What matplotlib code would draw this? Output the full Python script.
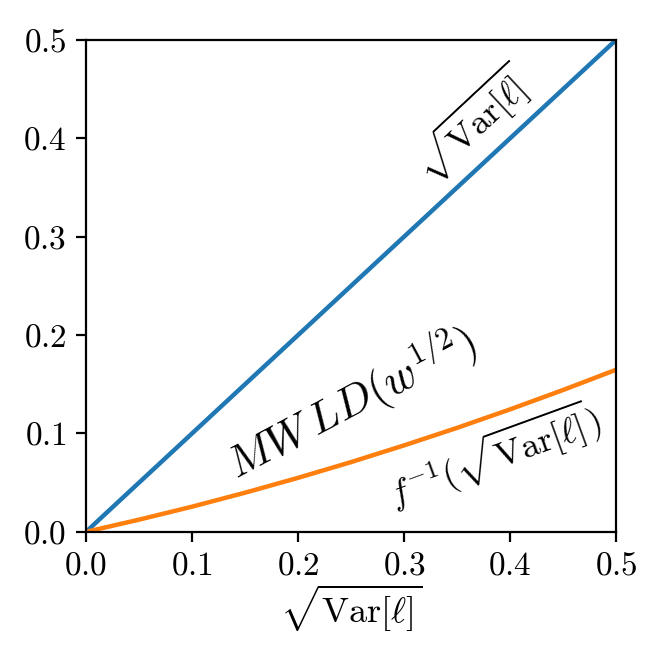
import numpy as np
import matplotlib
matplotlib.use("Agg")
import matplotlib.pyplot as plt

plt.rcParams['font.family'] = 'serif'
plt.rcParams['font.serif'] = ['cmr10']
plt.rcParams['mathtext.fontset'] = 'cm'
plt.rcParams['axes.formatter.use_mathtext'] = True
plt.rcParams['font.size'] = 12

# sqrt(Var[l]) on the x axis
x = [0.0, 0.05, 0.1, 0.15, 0.2, 0.25, 0.3, 0.35, 0.4, 0.45, 0.5]
# identity line
y_sqrt = [0.0, 0.05, 0.1, 0.15, 0.2, 0.25, 0.3, 0.35, 0.4, 0.45, 0.5]
# f^{-1}(sqrt(Var[l]))
y_finv = [0.0, 0.0124, 0.0256, 0.0398, 0.0549, 0.0709, 0.0879, 0.1057, 0.1245, 0.1442, 0.1648]

fig = plt.figure(figsize=(3.32, 3.32), dpi=200)
ax = fig.add_axes([0.1295, 0.199, 0.7985, 0.741])

ax.plot(x, y_sqrt, color='#1f77b4', lw=1.6)
ax.plot(x, y_finv, color='#ff7f0e', lw=1.6)

ax.set_xlim(0, 0.5)
ax.set_ylim(0, 0.5)
ax.set_xticks([0.0, 0.1, 0.2, 0.3, 0.4, 0.5])
ax.set_yticks([0.0, 0.1, 0.2, 0.3, 0.4, 0.5])
ax.set_xlabel(r'$\sqrt{\mathrm{Var}[\ell]}$', fontsize=13, labelpad=1)

ax.text(0.365, 0.414, r'$\sqrt{\mathrm{Var}[\ell]}$', rotation=43,
        ha='center', va='center', fontsize=13)
ax.text(0.250, 0.132, r'$MW\,LD(w^{1/2})$', rotation=28,
        ha='center', va='center', fontsize=16)
ax.text(0.385, 0.077, r'$f^{-1}(\sqrt{\mathrm{Var}[\ell]})$', rotation=20,
        ha='center', va='center', fontsize=13)

fig.savefig('out.png', dpi=200)
